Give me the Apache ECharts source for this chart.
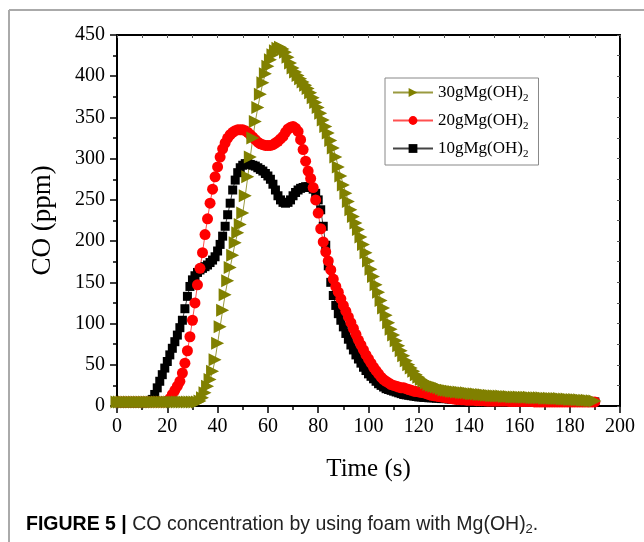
<!DOCTYPE html>
<html>
<head>
<meta charset="utf-8">
<script src="https://cdn.jsdelivr.net/npm/echarts@6/dist/echarts.min.js"></script>
<style>
html,body{margin:0;padding:0;background:#fff;}
#chart{width:644px;height:542px;}
</style>
</head>
<body>
<div id="chart"></div>
<script>
// Sampling: one reading per second, starting at t = 0 s
const timeStart = 0;
const timeStep = 1;

const seriesNames = ['10gMg(OH)2', '20gMg(OH)2', '30gMg(OH)2'];

const co10g = [
  4,4,4,4,4,4,4,4,4,4,4,4,4,
  5,8,14,22,30,38,46,
  54,62,70,78,86,95,104,118,133,145,
  153,158,162,165,167,169,171,174,177,181,
  188,196,206,218,232,246,262,274,283,289,
  292,294,294,293,292,291,289,287,285,282,
  279,275,269,262,255,250,247,246,247,250,
  255,259,262,264,265,266,266,265,263,258,
  250,238,218,195,170,150,134,122,112,104,
  96,88,81,74,68,62,57,52,47,43,
  39,36,33,30,27,25,23,21,20,19,
  18,17,16,15,14,13.5,13,12.5,12,11.5,
  11,11,10.5,10.5,10,10,10,9.5,9.5,9,
  9,9,8.5,8.5,8.5,8,8,8,8,7.5,
  7.5,7.5,7.5,7,7,7,7,7,6.5,6.5,
  6.5,6.5,6.5,6.5,6,6,6,6,6,6,
  6,6,6,6,5.5,5.5,5.5,5.5,5.5,5.5,
  5.5,5.5,5.5,5.5,5,5,5,5,5,5,
  5,5,5,5,5,5,5,5,5,5,5
];

const co20g = [
  5,5,5,5,5,5,5,5,5,5,5,5,5,5,5,5,5,5,5,5,
  6,9,14,19,24,30,40,52,67,84,
  104,125,147,167,186,208,227,246,263,278,
  290,302,312,319,325,329,332,334,335,335,
  335,334,332,329,326,323,320,318,317,316,
  316,316,317,319,321,324,327,332,336,338,
  339,337,333,323,311,297,285,276,265,250,
  234,215,199,187,176,165,154,145,138,130,
  122,115,108,101,94,87,80,74,68,62,
  57,52,47,43,39,35,32,30,28,26,
  25,24,23,22,22,21,20,19,18,17.5,
  17,16.5,16,15,14,13,12.5,12,11.5,11,
  10.5,10,9.5,9,8.5,8,8,7.5,7.5,7,
  7,7,7,6.5,6.5,6.5,6.5,6,6,6,
  6,6,6,6,6,6,5.5,5.5,5.5,5.5,
  5.5,5.5,5.5,5.5,5.5,5.5,5,5,5,5,
  5,5,5,5,5,5,5,5,5,5,
  5,5,5,5,5,5,5,5,5,5,5
];

const co30g = [
  5,5,5,5,5,5,5,5,5,5,5,5,5,5,5,5,5,5,5,5,5,5,5,5,5,5,5,5,5,5,5,5,5,
  6,10,16,24,32,42,56,
  76,96,116,135,152,168,183,198,210,220,
  234,255,278,302,325,345,362,378,392,403,
  412,420,426,431,434,435,433,429,423,416,
  410,405,401,397,393,389,385,380,374,368,
  362,355,347,339,331,322,313,302,290,279,
  268,258,248,238,230,222,214,205,196,186,
  176,166,157,147,138,128,119,110,101,93,
  86,79,73,67,61,55,50,46,42,38,
  35,32,30,28,26,25,24,23,22,21,
  19.5,19,18.5,18,17.5,17,17,16.5,16,16,
  15.5,15,15,14.5,14,14,13.5,13,13,12.5,
  12.5,12,12,12,11.5,11.5,11.5,11,11,11,
  11,10.5,10.5,10.5,10.5,10,10,10,10,10,
  9.5,9.5,9.5,9,9,9,9,8.5,8.5,8.5,
  8,8,8,7.5,7.5,7,7,7,6.5,6.5,6
];

const xTicks = { min: 0, max: 200, interval: 20 };
const yTicks = { min: 0, max: 450, interval: 50 };

function pairs(vals) {
  return vals.map((v, i) => [timeStart + i * timeStep, v]);
}

const serif = '"Liberation Serif", "Times New Roman", serif';
const sans = '"Liberation Sans", Arial, sans-serif';
const chart = echarts.init(document.getElementById('chart'));

const baseAxis = {
  axisLine: { show: true, onZero: false, lineStyle: { color: '#000', width: 2 } },
  splitLine: { show: false },
  minorSplitLine: { show: false }
};

chart.setOption({
  animation: false,
  backgroundColor: '#fff',
  grid: { left: 117, top: 35, right: 24, bottom: 136, containLabel: false },
  legend: {
    orient: 'vertical',
    left: 385,
    top: 78,
    padding: [6, 10, 5, 7],
    itemGap: 8,
    itemWidth: 40,
    itemHeight: 11,
    borderColor: '#888',
    borderWidth: 1,
    backgroundColor: '#fff',
    data: ['30gMg(OH)2', '20gMg(OH)2', '10gMg(OH)2'],
    formatter: n => n.replace(/2$/, '') + '{sub|2}',
    textStyle: {
      fontFamily: serif, fontSize: 17, color: '#000',
      rich: { sub: { fontFamily: serif, fontSize: 11, color: '#000', padding: [12, 0, 0, 0] } }
    }
  },
  xAxis: [
    Object.assign({}, baseAxis, {
      type: 'value', min: xTicks.min, max: xTicks.max, interval: xTicks.interval,
      position: 'bottom',
      name: 'Time (s)', nameLocation: 'middle', nameGap: 51,
      nameTextStyle: { fontFamily: serif, fontSize: 25, color: '#000' },
      axisTick: { show: true, inside: false, length: 7, lineStyle: { color: '#000', width: 1.5 } },
      minorTick: { show: true, splitNumber: 2, length: 4, lineStyle: { color: '#000', width: 1.5 } },
      axisLabel: { fontFamily: serif, fontSize: 20, color: '#000', margin: 11 }
    }),
    Object.assign({}, baseAxis, {
      type: 'value', min: xTicks.min, max: xTicks.max, interval: xTicks.interval,
      position: 'top',
      axisTick: { show: true, inside: true, length: 3, lineStyle: { color: '#555', width: 1 } },
      minorTick: { show: true, splitNumber: 2, length: 3, lineStyle: { color: '#555', width: 1 } },
      axisLabel: { show: false }
    })
  ],
  yAxis: [
    Object.assign({}, baseAxis, {
      type: 'value', min: yTicks.min, max: yTicks.max, interval: yTicks.interval,
      position: 'left',
      name: 'CO (ppm)', nameLocation: 'middle', nameGap: 61,
      nameTextStyle: { fontFamily: serif, fontSize: 27, color: '#000' },
      axisTick: { show: true, inside: false, length: 7, lineStyle: { color: '#000', width: 1.5 } },
      minorTick: { show: true, splitNumber: 2, length: 4, lineStyle: { color: '#000', width: 1.5 } },
      axisLabel: { fontFamily: serif, fontSize: 20, color: '#000', margin: 12 }
    }),
    Object.assign({}, baseAxis, {
      type: 'value', min: yTicks.min, max: yTicks.max, interval: yTicks.interval,
      position: 'right',
      axisTick: { show: true, inside: true, length: 3, lineStyle: { color: '#555', width: 1 } },
      minorTick: { show: true, splitNumber: 2, length: 3, lineStyle: { color: '#555', width: 1 } },
      axisLabel: { show: false }
    })
  ],
  series: [
    {
      name: '10gMg(OH)2', type: 'line', xAxisIndex: 0, yAxisIndex: 0,
      data: pairs(co10g), symbol: 'rect', symbolSize: 9,
      itemStyle: { color: '#000' }, lineStyle: { color: '#444', width: 1 }
    },
    {
      name: '20gMg(OH)2', type: 'line', xAxisIndex: 0, yAxisIndex: 0,
      data: pairs(co20g), symbol: 'circle', symbolSize: 11,
      itemStyle: { color: '#ff0000' }, lineStyle: { color: '#ff5050', width: 1 }
    },
    {
      name: '30gMg(OH)2', type: 'line', xAxisIndex: 0, yAxisIndex: 0,
      data: pairs(co30g), symbol: 'triangle', symbolSize: 13, symbolRotate: -90,
      itemStyle: { color: '#808000' }, lineStyle: { color: '#9a9a40', width: 1 }
    }
  ],
  graphic: [
    { type: 'line', shape: { x1: 9, y1: 10, x2: 644, y2: 10 }, style: { stroke: '#aaa', lineWidth: 2 } },
    { type: 'line', shape: { x1: 9, y1: 10, x2: 9, y2: 542 }, style: { stroke: '#aaa', lineWidth: 2 } },
    {
      type: 'text', left: 26, top: 515,
      style: {
        text: '{b|FIGURE 5 |} CO concentration by using foam with Mg(OH){s|2}.',
        font: '19.5px ' + sans,
        fill: '#222',
        rich: {
          b: { fontFamily: sans, fontSize: 19.5, fontWeight: 'bold', fill: '#000' },
          s: { fontFamily: sans, fontSize: 13, fill: '#222', padding: [8, 0, 0, 0] }
        }
      }
    }
  ]
});
</script>
</body>
</html>
